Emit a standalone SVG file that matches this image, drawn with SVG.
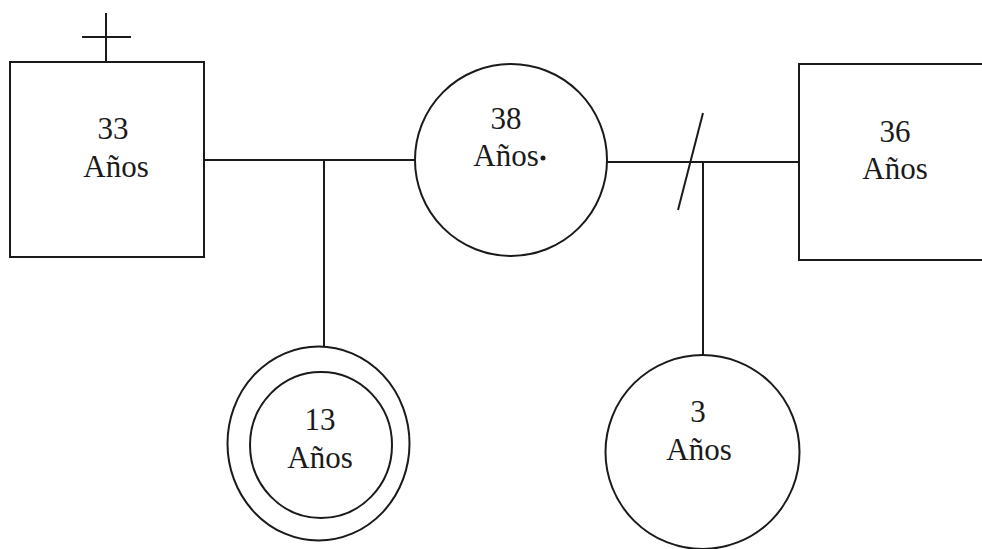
<svg xmlns="http://www.w3.org/2000/svg" width="982" height="549" viewBox="0 0 982 549">
<style>
.s{fill:none;stroke:#1a1a1a;stroke-width:2}
.n{fill:#ffffff;stroke:#1a1a1a;stroke-width:2}
text{font-family:'Liberation Serif','DejaVu Serif',serif;font-size:31px;fill:#1a1a1a;text-anchor:middle}
</style>
<rect width="982" height="549" fill="#ffffff"/>
<g id="connectors">
<line class="s" x1="204" y1="160" x2="417" y2="160"/>
<line class="s" x1="324" y1="160" x2="324" y2="347"/>
<line class="s" x1="606" y1="162" x2="799" y2="162"/>
<line class="s" x1="703" y1="162" x2="703" y2="355"/>
<line class="s" x1="678" y1="210" x2="703" y2="113"/>
</g>
<g id="node-33">
<line class="s" x1="106" y1="13" x2="106" y2="62"/>
<line class="s" x1="82" y1="37" x2="131" y2="37"/>
<rect class="n" x="10" y="62" width="194" height="195"/>
<text x="113" y="139" font-family="Liberation Serif, serif">33</text>
<text x="116" y="177" font-family="Liberation Serif, serif">Años</text>
</g>
<g id="node-38">
<circle class="n" cx="511" cy="160" r="96"/>
<text x="506" y="129" font-family="Liberation Serif, serif">38</text>
<text x="506" y="166" font-family="Liberation Serif, serif">Años</text>
<circle cx="543" cy="158" r="2.5" fill="#1a1a1a"/>
</g>
<g id="node-36">
<rect class="n" x="799" y="64" width="200" height="196"/>
<text x="895" y="142" font-family="Liberation Serif, serif">36</text>
<text x="895" y="179" font-family="Liberation Serif, serif">Años</text>
</g>
<g id="node-13">
<ellipse class="n" cx="318.5" cy="443.5" rx="91" ry="97"/>
<ellipse class="s" cx="321" cy="445" rx="71" ry="73"/>
<text x="320" y="430" font-family="Liberation Serif, serif">13</text>
<text x="320" y="468" font-family="Liberation Serif, serif">Años</text>
</g>
<g id="node-3">
<circle class="n" cx="702.5" cy="452" r="97"/>
<text x="698" y="422" font-family="Liberation Serif, serif">3</text>
<text x="699" y="460" font-family="Liberation Serif, serif">Años</text>
</g>
</svg>
